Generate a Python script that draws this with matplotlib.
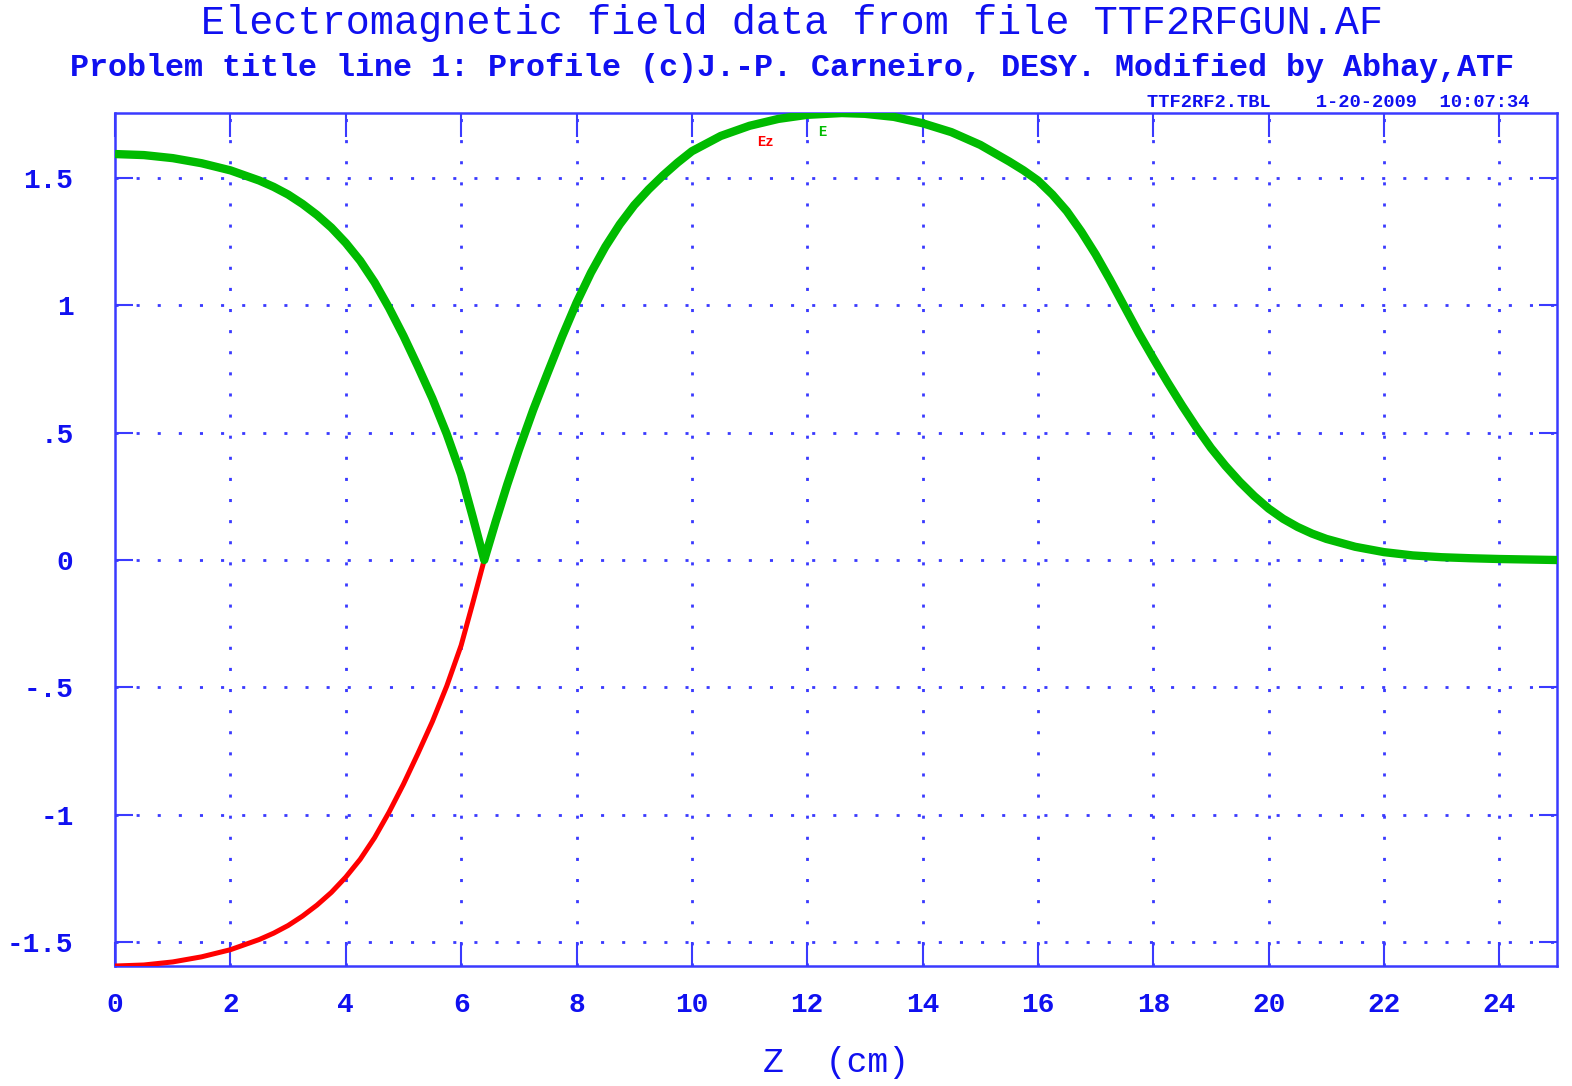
import numpy as np
import matplotlib.pyplot as plt

# On-axis field profile of the TTF2 RF gun (Superfish output)
z_cm = [0.0, 0.5, 1.0, 1.5, 2.0, 2.5, 2.75, 3.0, 3.25, 3.5, 3.75, 4.0,
        4.25, 4.5, 4.75, 5.0, 5.25, 5.5, 5.75, 6.0, 6.2, 6.4, 6.6, 6.8,
        7.0, 7.25, 7.5, 7.75, 8.0, 8.25, 8.5, 8.75, 9.0, 9.25, 9.5, 9.75,
        10.0, 10.5, 11.0, 11.5, 12.0, 12.6, 13.0, 13.5, 14.0, 14.5, 15.0,
        15.5, 15.75, 16.0, 16.25, 16.5, 16.75, 17.0, 17.25, 17.5, 17.75,
        18.0, 18.25, 18.5, 18.75, 19.0, 19.25, 19.5, 19.75, 20.0, 20.25,
        20.5, 20.75, 21.0, 21.5, 22.0, 22.5, 23.0, 23.5, 24.0, 24.5, 25.0]
ez = [-1.594, -1.590, -1.578, -1.558, -1.530, -1.490, -1.465, -1.435,
      -1.398, -1.355, -1.305, -1.245, -1.175, -1.090, -0.990, -0.880,
      -0.760, -0.635, -0.495, -0.335, -0.170, 0.000, 0.152, 0.297, 0.432,
      0.590, 0.735, 0.877, 1.010, 1.128, 1.230, 1.318, 1.393, 1.455,
      1.510, 1.560, 1.605, 1.665, 1.705, 1.732, 1.748, 1.755, 1.752,
      1.740, 1.715, 1.680, 1.630, 1.565, 1.530, 1.490, 1.435, 1.370,
      1.290, 1.200, 1.100, 0.995, 0.890, 0.792, 0.697, 0.606, 0.520,
      0.440, 0.370, 0.307, 0.251, 0.202, 0.162, 0.130, 0.104, 0.083,
      0.052, 0.031, 0.018, 0.011, 0.007, 0.004, 0.002, 0.000]

x_ticks = [0, 2, 4, 6, 8, 10, 12, 14, 16, 18, 20, 22, 24]
y_ticks = [-1.5, -1.0, -0.5, 0.0, 0.5, 1.0, 1.5]
y_tick_labels = ["-1.5", "-1", "-.5", "0", ".5", "1", "1.5"]

title = "Electromagnetic field data from file TTF2RFGUN.AF"
subtitle = ("Problem title line 1: Profile (c)J.-P. Carneiro, DESY. "
            "Modified by Abhay,ATF")
stamp = "TTF2RF2.TBL    1-20-2009  10:07:34"

blue = "#1010f0"
axis_blue = "#3a3aff"
mono = "Liberation Mono"

z = np.array(z_cm)
e_z = np.array(ez)
e_abs = np.abs(e_z)

fig = plt.figure(figsize=(15.72, 10.86), dpi=100)
ax = fig.add_axes([0.0732, 0.1105, 0.9173, 0.7854])

ax.plot(z, e_z, color="#ff0000", linewidth=3.6, solid_capstyle="butt",
        solid_joinstyle="round", zorder=3)
ax.plot(z, e_abs, color="#00bb00", linewidth=6.0, solid_capstyle="butt",
        solid_joinstyle="round", zorder=4)

ax.set_xlim(0, 25)
ax.set_ylim(min(ez), max(ez))

ax.set_xticks(x_ticks)
ax.set_xticklabels([str(t) for t in x_ticks], fontfamily=mono,
                   fontsize=20, fontweight="bold", color=blue)
ax.set_yticks(y_ticks)
ax.set_yticklabels(y_tick_labels, fontfamily=mono, fontsize=20,
                   fontweight="bold", color=blue)

ax.tick_params(axis="x", direction="in", length=17, width=1.5,
               color=axis_blue, pad=19, top=True)
ax.tick_params(axis="y", direction="in", length=13, width=1.5,
               color=axis_blue, pad=30, right=True)

# dotted grid, skipping the line that would sit on the left spine
ax.grid(True, color=axis_blue, linewidth=2.0, linestyle=(0, (1.1, 6.5)))
ax.get_xgridlines()[0].set_visible(False)
ax.set_axisbelow(True)

for side in ax.spines.values():
    side.set_color(axis_blue)
    side.set_linewidth(1.8)

ax.set_xlabel("Z  (cm)", fontfamily=mono, fontsize=25, color=blue,
              labelpad=20)

# curve legend tags
ax.text(11.27, 1.64, "Ez", color="#ff0000", fontfamily=mono, fontsize=10,
        fontweight="bold", ha="center", va="center", zorder=2)
ax.text(12.26, 1.68, "E", color="#00bb00", fontfamily=mono, fontsize=10,
        fontweight="bold", ha="center", va="center", zorder=2)

fig.text(0.504, 0.979, title, fontfamily=mono, fontsize=28.9, color=blue,
         ha="center", va="center")
fig.text(0.504, 0.937, subtitle, fontfamily=mono, fontsize=22.9, color=blue,
         fontweight="bold", ha="center", va="center")
fig.text(0.973, 0.906, stamp, fontfamily=mono, fontsize=13.5, color=blue,
         fontweight="bold", ha="right", va="center")

fig.savefig("out.png", dpi=100)
